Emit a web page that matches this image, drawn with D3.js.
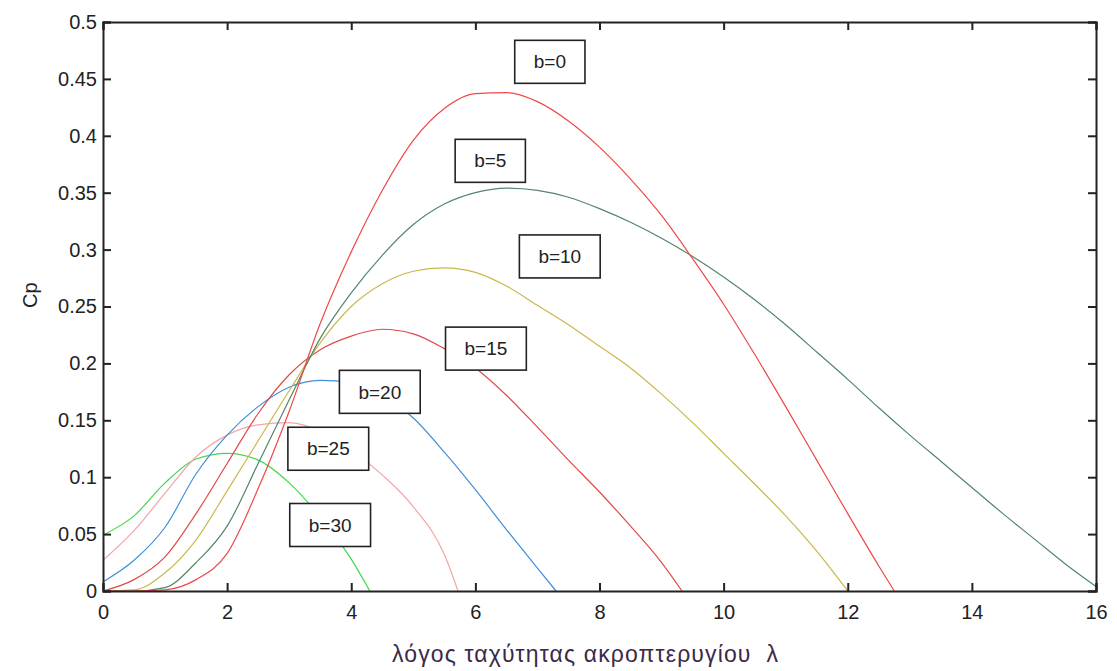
<!DOCTYPE html>
<html>
<head>
<meta charset="utf-8">
<script src="https://cdn.jsdelivr.net/npm/d3@7"></script>
<style>
  body { margin: 0; background: #fff; }
  .axis text { font-family: "Liberation Sans", Arial, sans-serif; font-size: 20px; fill: #222; }
  .axis path, .axis line { stroke: #222; }
</style>
</head>
<body>
<script>
// Cp vs tip speed ratio, one curve per pitch angle b

// x ticks / y ticks
var xTicks = [0, 2, 4, 6, 8, 10, 12, 14, 16];
var yTicks = [0, 0.05, 0.1, 0.15, 0.2, 0.25, 0.3, 0.35, 0.4, 0.45, 0.5];
var yTickLabels = ["0", "0.05", "0.1", "0.15", "0.2", "0.25", "0.3", "0.35", "0.4", "0.45", "0.5"];

// series: [lambda, Cp]
var cpB0 = [[0,0],[0.5,0],[1,0.001],[1.5,0.01],[2,0.033],[2.5,0.09],[3,0.158],[3.5,0.235],[4,0.298],[4.5,0.352],[5,0.396],[5.5,0.424],[6,0.437],[6.5,0.438],[7,0.43],[7.5,0.413],[8,0.39],[8.5,0.362],[9,0.33],[9.5,0.292],[10,0.252],[10.5,0.208],[11,0.162],[11.5,0.115],[12,0.068],[12.5,0.022],[12.75,0]];
var cpB5 = [[0,0],[0.5,0],[1,0.003],[1.5,0.025],[2,0.057],[2.5,0.112],[3,0.168],[3.5,0.222],[4,0.262],[4.5,0.295],[5,0.322],[5.5,0.34],[6,0.35],[6.5,0.354],[7,0.352],[7.5,0.346],[8,0.336],[8.5,0.324],[9,0.31],[9.5,0.294],[10,0.276],[10.5,0.256],[11,0.234],[11.5,0.21],[12,0.186],[12.5,0.161],[13,0.137],[13.5,0.114],[14,0.091],[14.5,0.068],[15,0.046],[15.5,0.024],[16,0.004]];
var cpB10 = [[0,0],[0.5,0.001],[1,0.016],[1.5,0.045],[2,0.088],[2.5,0.132],[3,0.176],[3.5,0.218],[4,0.25],[4.5,0.27],[5,0.281],[5.5,0.284],[6,0.28],[6.5,0.268],[7,0.251],[7.5,0.234],[8,0.215],[8.5,0.196],[9,0.173],[9.5,0.148],[10,0.121],[10.5,0.094],[11,0.066],[11.5,0.035],[12,0]];
var cpB15 = [[0,0],[0.5,0.01],[1,0.03],[1.5,0.068],[2,0.112],[2.5,0.156],[3,0.19],[3.5,0.212],[4,0.224],[4.5,0.23],[5,0.226],[5.5,0.213],[6,0.196],[6.5,0.172],[7,0.144],[7.5,0.115],[8,0.087],[8.5,0.057],[9,0.025],[9.33,0]];
var cpB20 = [[0,0.008],[0.5,0.027],[1,0.056],[1.5,0.103],[2,0.137],[2.5,0.162],[3,0.179],[3.5,0.185],[4,0.183],[4.5,0.172],[5,0.152],[5.5,0.122],[6,0.089],[6.5,0.054],[7,0.02],[7.3,0]];
var cpB25 = [[0,0.027],[0.5,0.053],[1,0.086],[1.5,0.118],[2,0.137],[2.5,0.146],[3,0.148],[3.5,0.14],[4,0.124],[4.5,0.102],[5,0.074],[5.5,0.032],[5.72,0]];
var cpB30 = [[0,0.049],[0.5,0.066],[1,0.095],[1.5,0.116],[2,0.121],[2.5,0.115],[3,0.095],[3.5,0.065],[4,0.028],[4.3,0]];

var seriesNames = ["b=0", "b=5", "b=10", "b=15", "b=20", "b=25", "b=30"];
var seriesData = [cpB0, cpB5, cpB10, cpB15, cpB20, cpB25, cpB30];
var seriesColors = ["#f04848", "#53866a", "#c9b84c", "#e04a4a", "#4090d8", "#f2a6a6", "#40d84c"];
// where each label box sits, in data units [lambda, Cp]
var labelPos = [[7.2,0.465],[6.24,0.378],[7.36,0.294],[6.17,0.213],[4.46,0.175],[3.63,0.125],[3.66,0.058]];

window.onload = function() {

    var w = 1117, h = 671;
    var left = 103, right = 1096, top = 22, bottom = 591;

    var svg = d3.select("body").append("svg")
        .attr("width", w)
        .attr("height", h);

    var x = d3.scaleLinear().domain([0, 16]).range([left, right]);
    var y = d3.scaleLinear().domain([0, 0.5]).range([bottom, top]);

    //lines, drawn from b=30 up so b=0 is on top
    var line = d3.line()
        .x(function(d) { return x(d[0]); })
        .y(function(d) { return y(d[1]); })
        .curve(d3.curveMonotoneX);

    svg.selectAll(".curve")
        .data(d3.range(seriesData.length).reverse())
        .enter()
        .append("path")
        .attr("class", "curve")
        .attr("d", function(i) { return line(seriesData[i]); })
        .attr("fill", "none")
        .attr("stroke", function(i) { return seriesColors[i]; })
        .attr("stroke-width", 1.2);

    //axes with inward ticks on all four sides
    var fmtY = function(d) { return yTickLabels[yTicks.indexOf(d)]; };

    svg.append("g").attr("class", "axis")
        .attr("transform", "translate(0," + bottom + ")")
        .call(d3.axisBottom(x).tickValues(xTicks).tickSize(-8).tickPadding(14).tickFormat(d3.format("d")));
    svg.append("g").attr("class", "axis")
        .attr("transform", "translate(0," + top + ")")
        .call(d3.axisTop(x).tickValues(xTicks).tickSize(-8).tickFormat(""));
    svg.append("g").attr("class", "axis")
        .attr("transform", "translate(" + left + ",0)")
        .call(d3.axisLeft(y).tickValues(yTicks).tickSize(-8).tickPadding(6).tickFormat(fmtY));
    svg.append("g").attr("class", "axis")
        .attr("transform", "translate(" + right + ",0)")
        .call(d3.axisRight(y).tickValues(yTicks).tickSize(-8).tickFormat(""));

    svg.selectAll(".axis path").attr("stroke-width", 2);
    svg.selectAll(".axis line").attr("stroke-width", 2);

    //label boxes
    var labels = svg.selectAll(".lab")
        .data(seriesNames)
        .enter()
        .append("g")
        .attr("class", "lab")
        .attr("transform", function(d, i) {
            return "translate(" + x(labelPos[i][0]) + "," + y(labelPos[i][1]) + ")";
        });

    var texts = labels.append("text")
        .attr("text-anchor", "middle")
        .attr("dy", "0.35em")
        .style("font-family", "Liberation Sans, Arial, sans-serif")
        .style("font-size", "19px")
        .style("fill", "#222")
        .text(function(d) { return d; });

    labels.insert("rect", "text")
        .each(function(d, i) {
            var bb = texts.nodes()[i].getBBox();
            var bw = bb.width + 38, bh = 43;
            d3.select(this)
                .attr("x", -bw / 2).attr("y", -bh / 2)
                .attr("width", bw).attr("height", bh);
        })
        .attr("fill", "#fff")
        .attr("stroke", "#222")
        .attr("stroke-width", 1.6);

    //axis titles
    svg.append("text")
        .attr("transform", "translate(37," + y(0.26) + ") rotate(-90)")
        .attr("text-anchor", "middle")
        .style("font-family", "Liberation Sans, Arial, sans-serif")
        .style("font-size", "20px")
        .style("fill", "#222")
        .text("Cp");

    svg.append("text")
        .attr("x", 392)
        .attr("y", 662)
        .attr("textLength", 386)
        .attr("lengthAdjust", "spacing")
        .style("white-space", "pre")
        .style("font-family", "Liberation Sans, Arial, sans-serif")
        .style("font-size", "23px")
        .style("fill", "#3a2a48")
        .text("λόγος ταχύτητας ακροπτερυγίου  λ");
};
</script>
</body>
</html>
